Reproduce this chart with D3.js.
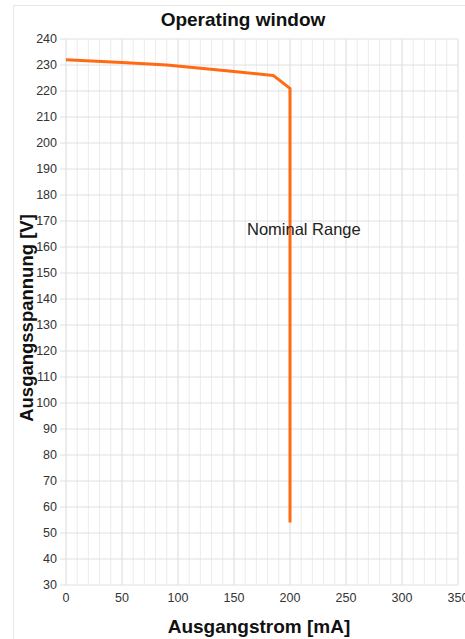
<!DOCTYPE html>
<html><head><meta charset="utf-8">
<script src="https://cdn.jsdelivr.net/npm/d3@7"></script>
<style>body{margin:0;background:#fff;}svg{display:block;font-family:"Liberation Sans",Arial,sans-serif;}</style>
</head><body>
<svg id="c" width="465" height="639"></svg>
<script>
const current = [0, 50, 90, 150, 185, 200, 200];
const voltage = [232, 231, 230, 227.5, 226, 221, 54];
const xTicks = [0, 50, 100, 150, 200, 250, 300, 350];
const yTicks = [30,40,50,60,70,80,90,100,110,120,130,140,150,160,170,180,190,200,210,220,230,240];
const title = "Operating window";
const xTitle = "Ausgangstrom [mA]";
const yTitle = "Ausgangsspannung [V]";
const annotation = "Nominal Range";

const svg = d3.select("#c");
const x = d3.scaleLinear().domain([0, 350]).range([66, 458]);
const y = d3.scaleLinear().domain([30, 240]).range([585, 39]);

// frame
svg.append("rect").attr("x", 13.5).attr("y", 5.5).attr("width", 470).attr("height", 660)
  .attr("fill", "none").attr("stroke", "#e6e6e6");

// grid
const minor = d3.range(0, 351, 10);
svg.append("g").selectAll("line").data(minor).join("line")
  .attr("x1", d => x(d)).attr("x2", d => x(d)).attr("y1", y(240)).attr("y2", y(30))
  .attr("stroke", d => d % 50 === 0 ? "#d9d9d9" : "#ececec").attr("stroke-width", 1);
svg.append("g").selectAll("line").data(yTicks).join("line")
  .attr("x1", x(0) - 6).attr("x2", x(350)).attr("y1", d => y(d)).attr("y2", d => y(d))
  .attr("stroke", "#e0e0e0").attr("stroke-width", 1);

// axes labels
svg.append("g").selectAll("text").data(yTicks).join("text")
  .attr("x", 57).attr("y", d => y(d)).attr("dy", "0.35em").attr("text-anchor", "end")
  .attr("font-size", 12.5).attr("fill", "#333").text(d => d);
svg.append("g").selectAll("text").data(xTicks).join("text")
  .attr("x", d => x(d)).attr("y", 602).attr("text-anchor", "middle")
  .attr("font-size", 12.5).attr("fill", "#333").text(d => d);

// line
const pts = current.map((c, i) => [c, voltage[i]]);
svg.append("path").datum(pts)
  .attr("d", d3.line().x(d => x(d[0])).y(d => y(d[1])))
  .attr("fill", "none").attr("stroke", "#ff6a13").attr("stroke-width", 3).attr("stroke-linejoin", "round");

// annotation
svg.append("text").attr("x", 247).attr("y", 235).attr("font-size", 16.5).attr("fill", "#222").text(annotation);

// titles
svg.append("text").attr("x", 243).attr("y", 26).attr("text-anchor", "middle")
  .attr("font-size", 19).attr("font-weight", "bold").attr("fill", "#111").text(title);
svg.append("text").attr("x", 259).attr("y", 633).attr("text-anchor", "middle")
  .attr("font-size", 19).attr("font-weight", "bold").attr("fill", "#111").text(xTitle);
svg.append("text").attr("transform", "translate(33,318) rotate(-90)").attr("text-anchor", "middle")
  .attr("font-size", 18.5).attr("font-weight", "bold").attr("fill", "#111").text(yTitle);
</script>
</body></html>
